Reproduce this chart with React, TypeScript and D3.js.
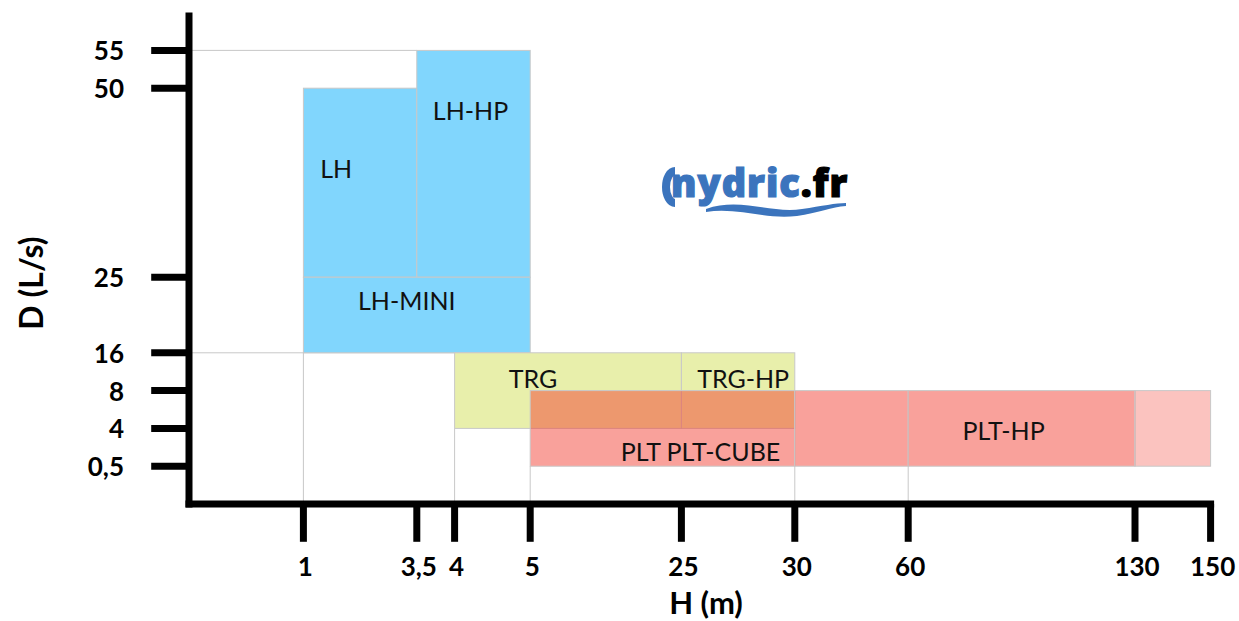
import React from "react";
import * as d3 from "d3";

// valeurs (H en m, D en L/s)
const xTicks = [1, 3.5, 4, 5, 25, 30, 60, 130, 150];
const yTicks = [0.5, 4, 8, 16, 25, 50, 55];

const lhRanges = [
  { name: "LH", h: [1, 3.5], d: [25, 50] },
  { name: "LH-HP", h: [3.5, 5], d: [25, 55] },
  { name: "LH-MINI", h: [1, 5], d: [16, 25] },
];
const trgRanges = [
  { name: "TRG", h: [4, 25], d: [4, 16] },
  { name: "TRG-HP", h: [25, 30], d: [4, 16] },
];
const pltRanges = [
  { name: "PLT PLT-CUBE", h: [5, 30], d: [0.5, 8], extended: false },
  { name: "", h: [30, 60], d: [0.5, 8], extended: false },
  { name: "PLT-HP", h: [60, 130], d: [0.5, 8], extended: false },
  { name: "", h: [130, 150], d: [0.5, 8], extended: true },
];

// lignes de repère entre les plages et les axes
const hGuides = [
  { d: 55, to: 3.5 },
  { d: 16, to: 4 },
];
const vGuides = [
  { h: 1, from: 16 },
  { h: 4, from: 4 },
  { h: 5, from: 0.5 },
  { h: 30, from: 0.5 },
  { h: 60, from: 0.5 },
];

// mise en page : le graphique suit les cellules d'un tableur
const W = 1239;
const H = 621;
const UNIT = 37.8;
const X0 = 190;
const Y0 = 504;
const X_SLOTS = [0, 3, 6, 7, 9, 13, 16, 19, 25, 27];
const Y_SLOTS = [0, 1, 2, 3, 4, 6, 11, 12];

const labelOffset: Record<string, [number, number]> = {
  LH: [-24, -15],
  "LH-HP": [-3, -54],
  "LH-MINI": [-10, -15],
  TRG: [-35, -13],
  "TRG-HP": [5, -13],
  "PLT PLT-CUBE": [38, 23],
  "PLT-HP": [-18, 2],
};

const x = d3
  .scaleLinear()
  .domain([0, ...xTicks])
  .range(X_SLOTS.map((s) => X0 + s * UNIT));
const y = d3
  .scaleLinear()
  .domain([0, ...yTicks])
  .range(Y_SLOTS.map((s) => Y0 - s * UNIT));

const fmt = (v: number) => String(v).replace(".", ",");

const GRID = "#c8c8c8";
const BLUE = "#81d6fd";
const GREEN = "#e8efab";
const RED = "rgb(242,55,42)";
const LOGO = "#3b74bd";

type R = { name: string; h: number[]; d: number[]; extended?: boolean };

const Box = ({ r, fill, opacity }: { r: R; fill: string; opacity: number }) => {
  const x0 = x(r.h[0]);
  const x1 = x(r.h[1]);
  const y0 = y(r.d[1]);
  const y1 = y(r.d[0]);
  const off = labelOffset[r.name] || [0, 0];
  return (
    <g>
      <rect
        x={x0}
        y={y0}
        width={x1 - x0}
        height={y1 - y0}
        fill={fill}
        fillOpacity={opacity}
        stroke={GRID}
        strokeWidth={1}
      />
      {r.name && (
        <text
          x={(x0 + x1) / 2 + off[0]}
          y={(y0 + y1) / 2 + off[1]}
          textAnchor="middle"
          dominantBaseline="central"
          fontFamily="Lato, sans-serif"
          fontSize={25}
          fill="#111"
        >
          {r.name}
        </text>
      )}
    </g>
  );
};

export default function App() {
  const axisTop = Y0 - 13 * UNIT;
  return (
    <svg
      width={W}
      height={H}
      style={{ position: "absolute", left: 0, top: 0, background: "#fff" }}
    >
      {/* repères */}
      {hGuides.map((g, i) => (
        <line key={"h" + i} x1={X0} x2={x(g.to)} y1={y(g.d)} y2={y(g.d)} stroke={GRID} />
      ))}
      {vGuides.map((g, i) => (
        <line key={"v" + i} x1={x(g.h)} x2={x(g.h)} y1={y(g.from)} y2={Y0} stroke={GRID} />
      ))}

      {lhRanges.map((r) => (
        <Box key={r.name} r={r} fill={BLUE} opacity={1} />
      ))}
      {trgRanges.map((r) => (
        <Box key={r.name} r={r} fill={GREEN} opacity={1} />
      ))}
      {pltRanges.map((r, i) => (
        <Box key={"p" + i} r={r} fill={RED} opacity={r.extended ? 0.3 : 0.47} />
      ))}

      {/* axes */}
      <line x1={X0 - 1} x2={X0 - 1} y1={axisTop} y2={Y0 + 3.5} stroke="#000" strokeWidth={7} />
      <line x1={X0 - 4.5} x2={x(150) + 3.5} y1={Y0} y2={Y0} stroke="#000" strokeWidth={7} />
      {yTicks.map((t) => (
        <g key={"yt" + t}>
          <line x1={X0 - 1 - UNIT} x2={X0 - 1} y1={y(t)} y2={y(t)} stroke="#000" strokeWidth={7} />
          <text
            x={124}
            y={y(t)}
            textAnchor="end"
            dominantBaseline="central"
            fontFamily="Lato, sans-serif"
            fontWeight={700}
            fontSize={26}
          >
            {fmt(t)}
          </text>
        </g>
      ))}
      {xTicks.map((t) => (
        <g key={"xt" + t}>
          <line x1={x(t)} x2={x(t)} y1={Y0} y2={Y0 + UNIT} stroke="#000" strokeWidth={7} />
          <text
            x={x(t) + 2}
            y={566}
            textAnchor="middle"
            dominantBaseline="central"
            fontFamily="Lato, sans-serif"
            fontWeight={700}
            fontSize={26}
          >
            {fmt(t)}
          </text>
        </g>
      ))}
      <text
        x={706}
        y={602}
        textAnchor="middle"
        dominantBaseline="central"
        fontFamily="Lato, sans-serif"
        fontWeight={700}
        fontSize={31}
      >
        H (m)
      </text>
      <text
        transform="translate(30,283) rotate(-90)"
        textAnchor="middle"
        dominantBaseline="central"
        fontFamily="Lato, sans-serif"
        fontWeight={700}
        fontSize={32}
      >
        D (L/s)
      </text>

      {/* logo */}
      <g>
        <path d="M 675 171 A 9 16 0 0 0 675 203" fill="none" stroke={LOGO} strokeWidth={8} />
        <text
          x={671}
          y={197}
          fontFamily="'Open Sans', sans-serif"
          fontWeight={800}
          fontSize={38}
          letterSpacing={1}
          strokeWidth={1.2}
        >
          <tspan fill={LOGO} stroke={LOGO}>nydric</tspan>
          <tspan fill="#000" stroke="#000">.fr</tspan>
        </text>
        <path
          d="M 706 209 C 740 197, 772 214, 802 209 C 822 206, 836 203, 846 203 L 846 206 C 832 207, 818 213, 797 216 C 765 220, 738 207, 706 212 Z"
          fill={LOGO}
        />
      </g>
    </svg>
  );
}
